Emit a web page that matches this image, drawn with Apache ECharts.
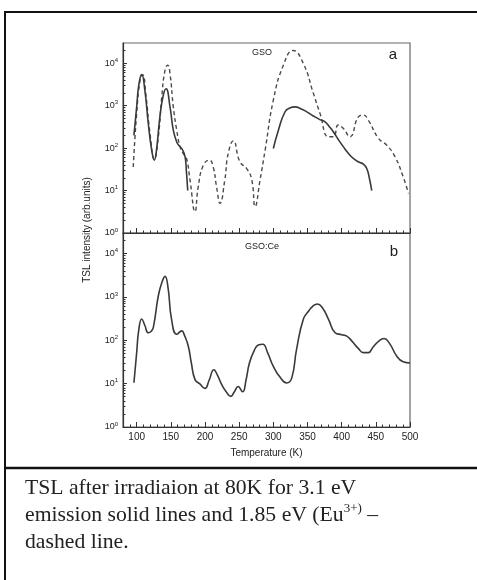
<!DOCTYPE html>
<html><head><meta charset="utf-8">
<script src="https://cdn.jsdelivr.net/npm/echarts@6/dist/echarts.min.js"></script>
<style>html,body{margin:0;padding:0;background:#fff}#c{width:477px;height:580px}</style>
</head><body><div id="c"></div>
<script>
// ---- data ----
const gsoSolidT1 = [96,100,103.4,107.4,112,117,122,125.8,129,134,139,143,148.8,153.6,158.6,163,166,170.8,172.8,174.7];
const gsoSolidV1 = [200,940,3300,5400,2300,380,90,52,90,545,1770,2500,940,265,140,110,98,63,28,10];
const gsoSolidT2 = [300,307.4,317,324,331.8,340,349,358,368,375.8,382,388,395,402.6,410,417,425,431.8,436.7,440.7,444];
const gsoSolidV2 = [98,265,710,880,935,850,715,580,470,415,320,240,160,107,75,57,47,42,33,19,10];
const gsoDashT = [95,100,105,108.8,113.5,119.5,125.8,131.7,136.7,141.5,145.4,148.8,153.6,158.6,163.5,168,173,178,185.4,190,197.6,206.4,212,217,222,229,234,241.5,251,261,268.4,273.3,280.6,288,300,314.7,329,344,358.6,368.4,380.6,388,395,402.6,412,424.5,431.8,439,453.8,466,478,490,497.7];
const gsoDashV = [36,660,4000,5400,1800,220,55,185,1600,6900,9000,5700,940,265,107,75,57,18,3.2,12,40,52,36,12,5,18,75,148,48,33,18,4.2,18,90,1350,9000,20000,9800,1950,650,185,185,350,290,185,545,600,455,170,117,63,21,8.6];
const gsoCeT = [96,100,103,107.4,112,117,121,124.4,131.7,137,141.5,146,151,158.6,166,170,175.6,180,185.4,192,200,206,213,218,224.5,231,237.7,243,248.5,255,260,265,272,278,284.5,292,300,310,319.7,327,334,344,352,358,364.5,372,380.6,390.4,400,407.5,415,424,432,439,446,454,462,470,480.7,490,500];
const gsoCeV = [10.5,52,170,310,220,150,160,200,1070,2200,3000,1600,310,138,165,130,73,30,12.4,10,7.8,12,21,16,9.5,6.5,5.1,6.5,8.6,6.5,12,30,58,78,81,50,25,14,10.4,13.6,62,310,480,620,690,560,310,150,135,125,96,66,52,52,70,95,110,85,43,32,30];
const xMajorTicks = [100,150,200,250,300,350,400,450,500];
const yMinorTicks = [2,3,4,5,6,7,8,9,20,30,40,50,60,70,80,90,200,300,400,500,600,700,800,900,2000,3000,4000,5000,6000,7000,8000,9000,20000];
const panelNames = ['GSO','GSO:Ce'];
const panelLetters = ['a','b'];
const yTitle = 'TSL intensity (arb.units)';
const xTitle = 'Temperature (K)';

function zip(t, v){ return t.map((x,i)=>[x, v[i]]); }
const FONT = 'Liberation Sans, Arial, sans-serif';
const SERIF = 'Liberation Serif, Times New Roman, serif';
const AX = '#333';
const G = [{left:123, top:43, width:287, height:190},{left:123, top:233, width:287, height:194}];

function mainX(gi, labels){
  return {type:'value', gridIndex:gi, min:80, max:500,
    name: labels ? xTitle : '', nameLocation:'middle', nameGap:21,
    nameTextStyle:{fontFamily:FONT, fontSize:10, color:'#222'},
    axisLine:{show:true, lineStyle:{color:AX, width:1.2}},
    axisTick:{show:true, inside:true, length:5, customValues:xMajorTicks, lineStyle:{color:AX}},
    axisLabel:{show:labels, customValues:xMajorTicks, fontFamily:FONT, fontSize:10, color:'#222', margin:5},
    splitLine:{show:false}};
}
function minorX(gi){
  return {type:'value', gridIndex:gi, min:80, max:500, interval:10,
    axisLine:{show:false}, axisTick:{show:true, inside:true, length:2.5, lineStyle:{color:AX}},
    axisLabel:{show:false}, splitLine:{show:false}};
}
function mainY(gi){
  return {type:'log', gridIndex:gi, min:1, max:30000, logBase:10,
    axisLine:{show:true, lineStyle:{color:AX, width:1.2}},
    axisTick:{show:true, inside:true, length:4, lineStyle:{color:AX}},
    axisLabel:{show:true, margin:5, showMaxLabel:false,
      formatter: v => { const e = Math.log10(v); if (Math.abs(e-Math.round(e))>1e-6) return ''; return '{b|10}{s|'+Math.round(e)+'}'; },
      rich:{b:{fontFamily:FONT, fontSize:9, color:'#222'}, s:{fontFamily:FONT, fontSize:6, color:'#222', verticalAlign:'top', padding:[0,0,6,0]}}},
    splitLine:{show:false}};
}
function minorY(gi){
  return {type:'log', gridIndex:gi, min:1, max:30000, logBase:10, position:'left',
    axisLine:{show:false}, axisTick:{show:true, inside:true, length:2.5, customValues:yMinorTicks, lineStyle:{color:AX}},
    axisLabel:{show:false}, splitLine:{show:false}};
}
const solidStyle = {color:'#3a3a3a', width:1.6};
const dashStyle = {color:'#4a4a4a', width:1.4, type:[4,3]};
function line(xi, data, style){
  return {type:'line', xAxisIndex:xi, yAxisIndex:xi, data:data, symbol:'none', showSymbol:false,
    smooth:0.5, lineStyle:style, silent:true};
}

const chart = echarts.init(document.getElementById('c'), null, {renderer:'canvas'});
chart.setOption({
  animation:false,
  backgroundColor:'#fff',
  grid:[
    Object.assign({show:true, borderColor:'#666', borderWidth:1.2, backgroundColor:'transparent'}, G[0]),
    Object.assign({show:true, borderColor:'#666', borderWidth:1.2, backgroundColor:'transparent'}, G[1]),
    Object.assign({}, G[0]),
    Object.assign({}, G[1])
  ],
  xAxis:[mainX(0,false), mainX(1,true), minorX(2), minorX(3)],
  yAxis:[mainY(0), mainY(1), minorY(2), minorY(3)],
  series:[
    line(0, zip(gsoDashT, gsoDashV), dashStyle),
    line(0, zip(gsoSolidT1, gsoSolidV1), solidStyle),
    line(0, zip(gsoSolidT2, gsoSolidV2), solidStyle),
    line(1, zip(gsoCeT, gsoCeV), solidStyle)
  ],
  graphic:[
    {type:'rect', shape:{x:5, y:12, width:500, height:600}, style:{fill:'none', stroke:'#111', lineWidth:2}},
    {type:'line', shape:{x1:5, y1:468, x2:477, y2:468}, style:{stroke:'#111', lineWidth:2.5}},
    {type:'text', x:262, y:53, style:{text:panelNames[0], font:'9px '+FONT, fill:'#222', align:'center', verticalAlign:'middle'}},
    {type:'text', x:393, y:55, style:{text:panelLetters[0], font:'15px '+FONT, fill:'#222', align:'center', verticalAlign:'middle'}},
    {type:'text', x:262, y:247, style:{text:panelNames[1], font:'9px '+FONT, fill:'#222', align:'center', verticalAlign:'middle'}},
    {type:'text', x:394, y:252, style:{text:panelLetters[1], font:'15px '+FONT, fill:'#222', align:'center', verticalAlign:'middle'}},
    {type:'text', x:87, y:230, rotation:Math.PI/2, style:{text:yTitle, font:'10px '+FONT, fill:'#222', align:'center', verticalAlign:'middle'}},
    {type:'text', x:25, y:488, style:{text:'TSL after irradiaion at 80K for 3.1 eV', font:'21.7px '+SERIF, fill:'#222', align:'left', verticalAlign:'middle'}},
    {type:'text', x:25, y:515, style:{text:'{n|emission solid lines and 1.85 eV (Eu}{s|3+)}{n| –}', align:'left', verticalAlign:'middle',
      rich:{n:{fontFamily:SERIF, fontSize:21.7, lineHeight:26, fill:'#222'},
            s:{fontFamily:SERIF, fontSize:13, lineHeight:14, fill:'#222', verticalAlign:'top'}}}},
    {type:'text', x:25, y:542, style:{text:'dashed line.', font:'21.7px '+SERIF, fill:'#222', align:'left', verticalAlign:'middle'}}
  ]
});
</script></body></html>
